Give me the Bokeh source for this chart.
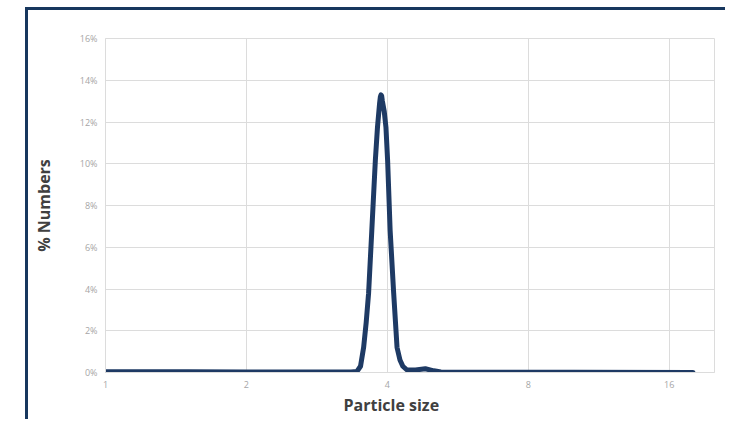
from bokeh.plotting import figure
from bokeh.models import Range1d, FixedTicker, PrintfTickFormatter, Title
from bokeh.embed import file_html
from bokeh.resources import INLINE

# Particle size distribution (% numbers)
sizes = [1.0, 1.5, 2.0, 3.0, 3.35, 3.446, 3.506, 3.560, 3.605, 3.648, 3.706, 3.771,
         3.811, 3.851, 3.865, 3.877, 3.89, 3.904, 3.94, 3.973, 4.006, 4.056, 4.127,
         4.196, 4.257, 4.317, 4.407, 4.595, 4.823, 5.028, 5.205, 10.0, 18.0]
percent = [0.03, 0.03, 0.02, 0.02, 0.02, 0.05, 0.3, 1.2, 2.4, 3.8, 6.8, 10.15,
           11.75, 12.9, 13.2, 13.3, 13.25, 13.0, 12.5, 11.75, 10.15, 6.8, 3.8,
           1.2, 0.6, 0.3, 0.12, 0.12, 0.18, 0.08, 0.02, 0.01, 0.0]
x_ticks = [1, 2, 4, 8, 16]
y_ticks = [0, 2, 4, 6, 8, 10, 12, 14, 16]

NAVY = "#1e3a64"
GRID = "#dcdcdc"
TICK_TXT = "#a6a6a6"
LABEL_TXT = "#404040"
FONT = "Open Sans"

p = figure(width=700, height=412, x_axis_type="log",
           x_range=Range1d(1, 20), y_range=Range1d(0, 16),
           output_backend="svg", toolbar_location=None,
           min_border_left=77, min_border_top=28, min_border_right=14,
           min_border_bottom=50)
p.margin = (7, 0, 0, 25)
p.styles = {"border-top": "3px solid #17375e", "border-left": "3px solid #17375e"}

p.outline_line_color = GRID
p.background_fill_color = "white"
p.border_fill_color = "white"

p.xaxis.ticker = FixedTicker(ticks=x_ticks)
p.xaxis.major_label_overrides = {t: str(t) for t in x_ticks}
p.yaxis.ticker = FixedTicker(ticks=y_ticks)
p.yaxis.formatter = PrintfTickFormatter(format="%d%%")

for ax in (p.xaxis, p.yaxis):
    ax.axis_line_color = GRID
    ax.major_tick_line_color = None
    ax.minor_tick_line_color = None
    ax.major_tick_out = 0
    ax.minor_tick_out = 0
    ax.major_label_text_font = FONT
    ax.major_label_text_font_size = "9px"
    ax.major_label_text_color = TICK_TXT
    ax.axis_label_text_font = FONT
    ax.axis_label_text_font_size = "16px"
    ax.axis_label_text_font_style = "bold"
    ax.axis_label_text_color = LABEL_TXT

p.yaxis.axis_label = "% Numbers"
p.xaxis.major_label_standoff = 8
p.yaxis.major_label_standoff = 8
p.yaxis.axis_label_standoff = 22

# x-axis title sits a little left of the frame centre in the original
p.add_layout(Title(text="Particle size", align="left", offset=238,
                   standoff=6, vertical_align="top", text_font=FONT,
                   text_font_size="16px", text_font_style="bold",
                   text_color=LABEL_TXT), "below")

p.xgrid.grid_line_color = GRID
p.ygrid.grid_line_color = GRID
p.xgrid.minor_grid_line_color = None

p.line(sizes, percent, line_color=NAVY, line_width=5,
       line_join="round", line_cap="round")

open("out.html", "w").write(file_html(p, INLINE))
